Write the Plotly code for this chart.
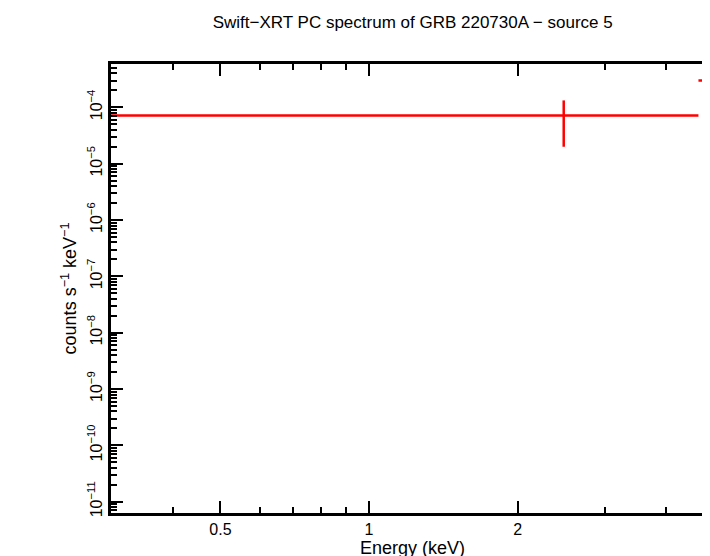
import plotly.graph_objects as go
import numpy as np

energy = [2.48, 4.82]
energy_lo = [0.30, 4.65]
energy_hi = [4.65, 5.08]
rate = [7.2e-5, 3.0e-4]
rate_lo = [2.0e-5, 1e-12]
rate_hi = [1.33e-4, 1e-3]

xtick_vals = [0.5, 1, 2]
xtick_text = ["0.5", "1", "2"]
ytick_exps = list(range(-11, -3))

xs, ys = [], []
for e, el, eh, r, rl, rh in zip(energy, energy_lo, energy_hi, rate, rate_lo, rate_hi):
    xs += [el, eh, None, e, e, None]
    ys += [r, r, None, rl, rh, None]

fig = go.Figure()
fig.add_trace(go.Scatter(x=xs, y=ys, mode="lines", line=dict(color="red", width=2.5),
                         showlegend=False, hoverinfo="skip"))

axis_common = dict(showline=True, linecolor="black", linewidth=3, mirror="allticks",
                   ticks="inside", tickcolor="black", tickwidth=2, showgrid=False,
                   zeroline=False, automargin=False,
                   tickfont=dict(family="Liberation Sans", size=16, color="black"))

minor_x = [0.3, 0.4, 0.6, 0.7, 0.8, 0.9, 3, 4]
fig.update_xaxes(type="log", range=[np.log10(0.3), np.log10(5.0)],
                 tickvals=xtick_vals, ticktext=xtick_text, ticklen=12,
                 minor=dict(tickvals=minor_x, ticks="inside", ticklen=6, tickcolor="black", tickwidth=2),
                 title=dict(text="Energy (keV)", font=dict(family="Liberation Sans", size=18, color="black"), standoff=4),
                 **axis_common)
minor_y = [m * 10.0**e for e in range(-12, -2) for m in range(2, 10)]
fig.update_yaxes(type="log", range=[-11.2, -3.23],
                 tickvals=[10.0**e for e in ytick_exps],
                 ticktext=["10<sup>−%d</sup>" % (-e) for e in ytick_exps],
                 tickangle=-90, ticklen=12,
                 minor=dict(tickvals=minor_y, ticks="inside", ticklen=6, tickcolor="black", tickwidth=2),
                 title=dict(text="counts s<sup>−1</sup> keV<sup>−1</sup>", font=dict(family="Liberation Sans", size=18, color="black"), standoff=4),
                 **axis_common)

fig.update_layout(
    width=710, height=556,
    margin=dict(l=103, r=4, t=56, b=51, autoexpand=False),
    paper_bgcolor="white", plot_bgcolor="white",
    title=dict(text="Swift−XRT PC spectrum of GRB 220730A − source 5", x=0.57, xanchor="center",
               y=0.985, yanchor="top", font=dict(family="Liberation Sans", size=17, color="black")),
)
fig.write_html("out.html")
